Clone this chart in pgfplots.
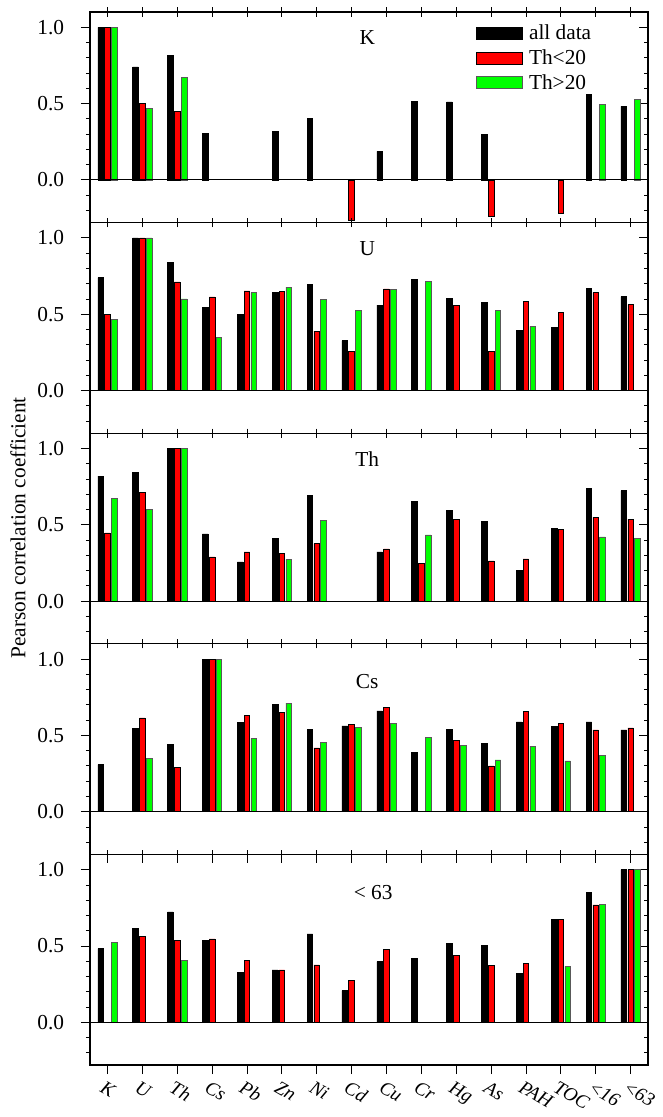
\documentclass[border=0pt]{standalone}
\usepackage{fontspec}
\setmainfont{Liberation Serif}
\usepackage{pgfplots}
\pgfplotsset{compat=1.18}
\definecolor{barred}{RGB}{255,0,0}
\definecolor{bargreen}{RGB}{0,255,0}
\newcommand\fs{\fontsize{16}{19}\selectfont}

\pgfplotsset{
  panel/.style={
    scale only axis, width=418.5pt, height=157.95pt,
    xmin=-0.5, xmax=15.5, ymin=-0.28, ymax=1.1,
    ybar=0.9pt, bar width=4.2pt,
    xtick={0,...,15}, xticklabels={},
    ytick={0,0.5,1},
    minor ytick={-0.2,-0.1,0.1,0.2,0.3,0.4,0.6,0.7,0.8,0.9},
    /pgf/number format/fixed, /pgf/number format/fixed zerofill,
    /pgf/number format/precision=1,
    /pgf/number format/assume math mode=true,
    tick align=center, xtick pos=both, ytick pos=both,
    major tick length=6.75pt, minor tick length=3pt,
    major y tick style={xshift=-3.375pt},
    minor y tick style={xshift=-1.5pt},
    tick style={black, line width=0.6pt},
    axis line style={line width=0.9pt},
    tick label style={font=\fs},
    yticklabel style={xshift=-12.5pt},
  },
  blk/.style={fill=black, draw=black, line width=0.4pt},
  red/.style={fill=barred, draw=black, line width=0.4pt},
  grn/.style={fill=bargreen, draw=black!65, line width=0.4pt},
  zero/.style={sharp plot, black, line width=0.6pt, mark=none, forget plot},
}

\begin{document}
\begin{tikzpicture}[font=\fs]

% K
\begin{axis}[panel, name=p1, at={(67.5pt,-9pt)}, anchor=north west,
  legend image code/.code={\draw[#1] (0pt,-4.5pt) rectangle (34pt,4.5pt);},
  legend style={draw=none, fill=none, at={(axis description cs:0.685,0.966)},
    anchor=north west, font=\fs, row sep=2pt, column sep=3pt, cells={anchor=west}}]
  \addplot[blk] coordinates {(0,1.0) (1,0.741) (2,0.818) (3,0.307) (5,0.318) (6,0.401)
    (8,0.186) (9,0.515) (10,0.511) (11,0.30) (14,0.561) (15,0.482)};
  \addplot[red] coordinates {(0,1.0) (1,0.50) (2,0.447) (7,-0.263) (11,-0.237) (13,-0.217)};
  \addplot[grn] coordinates {(0,1.0) (1,0.467) (2,0.671) (14,0.493) (15,0.526)};
  \addplot[zero] coordinates {(-0.5,0) (15.5,0)};
  \legend{all data, Th<20, Th>20}
  \node at (axis cs:7.45,0.93) {K};
\end{axis}

% U
\begin{axis}[panel, name=p2, at={(p1.south west)}, anchor=north west]
  \addplot[blk] coordinates {(0,0.740) (1,1) (2,0.840) (3,0.543) (4,0.501) (5,0.641)
    (6,0.696) (7,0.326) (8,0.560) (9,0.726) (10,0.602) (11,0.575) (12,0.392)
    (13,0.411) (14,0.667) (15,0.615)};
  \addplot[red] coordinates {(0,0.497) (1,1) (2,0.711) (3,0.613) (4,0.652) (5,0.650)
    (6,0.389) (7,0.258) (8,0.665) (10,0.556) (11,0.258) (12,0.582) (13,0.510)
    (14,0.641) (15,0.562)};
  \addplot[grn] coordinates {(0,0.466) (1,1) (2,0.600) (3,0.346) (4,0.641) (5,0.678)
    (6,0.595) (7,0.525) (8,0.663) (9,0.716) (11,0.523) (12,0.420)};
  \addplot[zero] coordinates {(-0.5,0) (15.5,0)};
  \node at (axis cs:7.45,0.93) {U};
\end{axis}

% Th
\begin{axis}[panel, name=p3, at={(p2.south west)}, anchor=north west,
  ylabel={Pearson correlation coefficient},
  ylabel style={at={(axis description cs:-0.129,0.55)}, anchor=center, font=\fs}]
  \addplot[blk] coordinates {(0,0.818) (1,0.842) (2,1) (3,0.441) (4,0.257) (5,0.412)
    (6,0.691) (8,0.322) (9,0.651) (10,0.596) (11,0.522) (12,0.20) (13,0.478)
    (14,0.739) (15,0.724)};
  \addplot[red] coordinates {(0,0.447) (1,0.711) (2,1) (3,0.289) (4,0.322) (5,0.314)
    (6,0.377) (8,0.342) (9,0.248) (10,0.533) (11,0.263) (12,0.276) (13,0.469)
    (14,0.548) (15,0.537)};
  \addplot[grn] coordinates {(0,0.671) (1,0.603) (2,1) (5,0.274) (6,0.531) (9,0.434)
    (14,0.421) (15,0.410)};
  \addplot[zero] coordinates {(-0.5,0) (15.5,0)};
  \node at (axis cs:7.45,0.93) {Th};
\end{axis}

% Cs
\begin{axis}[panel, name=p4, at={(p3.south west)}, anchor=north west]
  \addplot[blk] coordinates {(0,0.309) (1,0.545) (2,0.442) (3,1) (4,0.584) (5,0.705)
    (6,0.538) (7,0.562) (8,0.661) (9,0.389) (10,0.538) (11,0.449) (12,0.589)
    (13,0.560) (14,0.589) (15,0.536)};
  \addplot[red] coordinates {(1,0.615) (2,0.289) (3,1) (4,0.632) (5,0.652) (6,0.418)
    (7,0.573) (8,0.683) (10,0.466) (11,0.30) (12,0.659) (13,0.580) (14,0.536)
    (15,0.549)};
  \addplot[grn] coordinates {(1,0.348) (3,1) (4,0.481) (5,0.711) (6,0.453) (7,0.554)
    (8,0.578) (9,0.486) (10,0.433) (11,0.339) (12,0.429) (13,0.333) (14,0.368)};
  \addplot[zero] coordinates {(-0.5,0) (15.5,0)};
  \node at (axis cs:7.45,0.85) {Cs};
\end{axis}

% <63
\begin{axis}[panel, name=p5, at={(p4.south west)}, anchor=north west,
  major x tick style={yshift=-3.375pt},
  xticklabels={K, U, Th, Cs, Pb, Zn, Ni, Cd, Cu, Cr, Hg, As, PAH, TOC, <16, <63},
  xticklabel style={font=\fontsize{14.5}{17}\selectfont\itshape, rotate=-30,
    anchor=north west, inner sep=0.5pt, xshift=2pt, yshift=-7pt}]
  \addplot[blk] coordinates {(0,0.483) (1,0.616) (2,0.723) (3,0.537) (4,0.328) (5,0.343)
    (6,0.579) (7,0.207) (8,0.397) (9,0.419) (10,0.515) (11,0.502) (12,0.321)
    (13,0.675) (14,0.849) (15,1)};
  \addplot[red] coordinates {(1,0.563) (2,0.537) (3,0.546) (4,0.406) (5,0.343) (6,0.376)
    (7,0.273) (8,0.476) (10,0.437) (11,0.371) (12,0.386) (13,0.675) (14,0.769)
    (15,1)};
  \addplot[grn] coordinates {(0,0.522) (2,0.408) (13,0.367) (14,0.775) (15,1)};
  \addplot[zero] coordinates {(-0.5,0) (15.5,0)};
  \node at (axis cs:7.62,0.85) {< 63};
\end{axis}

\pgfresetboundingbox
\path[use as bounding box] (0,0) rectangle (497.25pt,-837.75pt);
\end{tikzpicture}
\end{document}
